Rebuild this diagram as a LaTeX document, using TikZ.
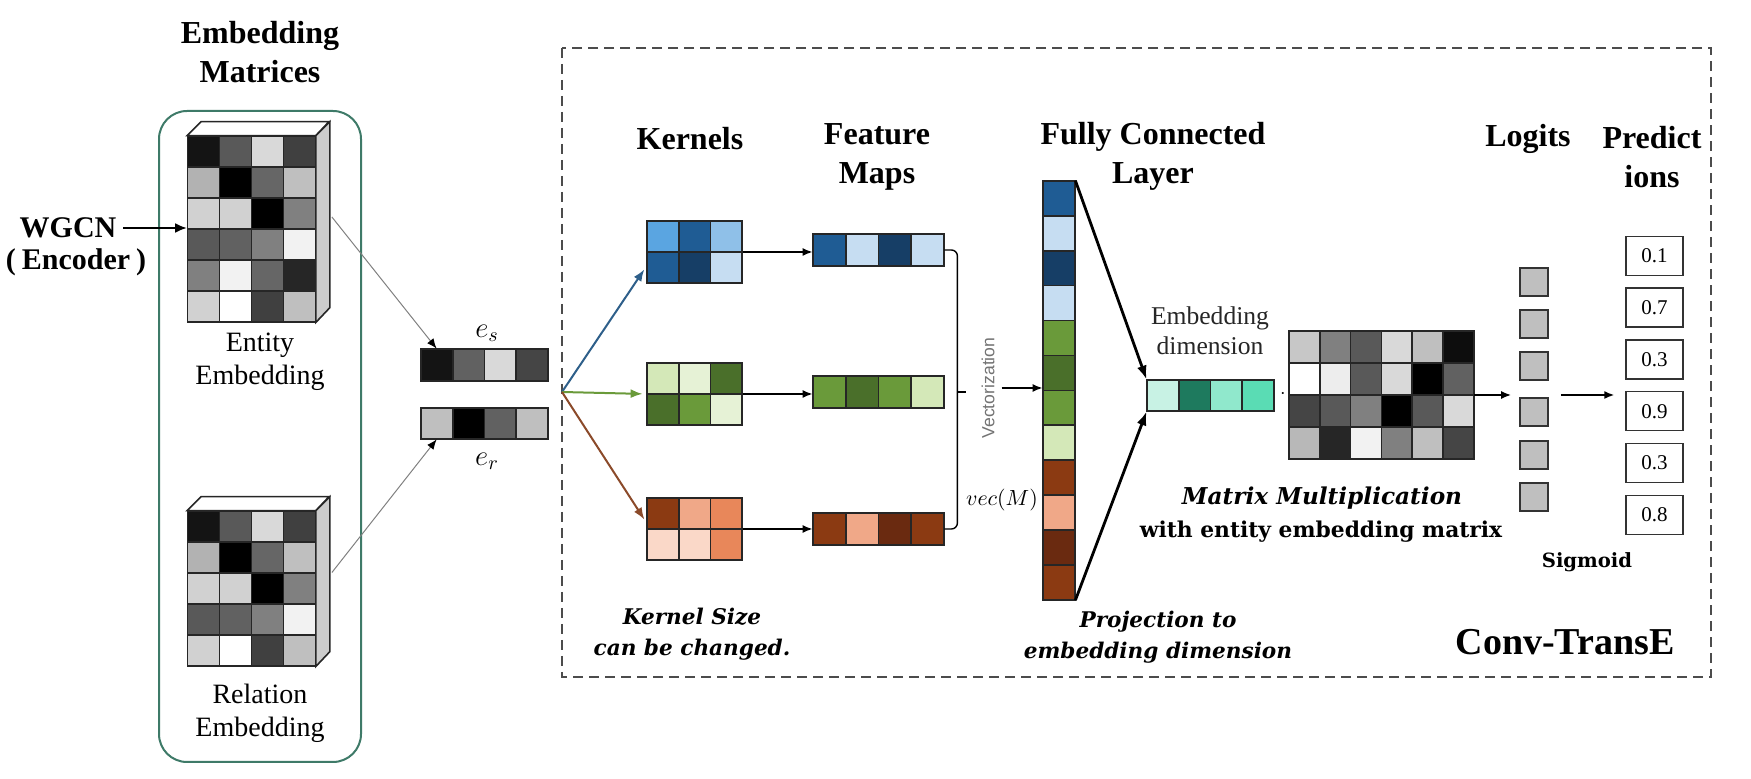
\documentclass[tikz,border=0pt]{standalone}
\usepackage{fontspec}
\setmainfont{Liberation Serif}
\newfontfamily\cambria{DejaVu Serif}
\newfontfamily\arial{Liberation Sans}
\usetikzlibrary{arrows.meta}
\definecolor{bl1}{RGB}{90,165,225}
\definecolor{bl2}{RGB}{31,92,148}
\definecolor{bl3}{RGB}{143,192,232}
\definecolor{bl4}{RGB}{22,62,102}
\definecolor{bl5}{RGB}{198,221,242}
\definecolor{gr1}{RGB}{212,232,184}
\definecolor{gr2}{RGB}{230,242,214}
\definecolor{gr3}{RGB}{74,111,42}
\definecolor{gr4}{RGB}{106,154,58}
\definecolor{or1}{RGB}{139,58,18}
\definecolor{or2}{RGB}{240,168,136}
\definecolor{or3}{RGB}{232,135,90}
\definecolor{or4}{RGB}{250,216,200}
\definecolor{or5}{RGB}{106,42,16}
\definecolor{te1}{RGB}{200,242,228}
\definecolor{te2}{RGB}{30,122,94}
\definecolor{te3}{RGB}{144,232,204}
\definecolor{te4}{RGB}{90,220,180}
\definecolor{arrblue}{RGB}{46,95,138}
\definecolor{arrgreen}{RGB}{106,154,58}
\definecolor{arrorange}{RGB}{139,74,42}
\definecolor{boxgreen}{RGB}{62,122,104}
\newcommand{\cellgrid}[8]{%
  \foreach \tone [count=\idx from 0] in {#8} {%
    \pgfmathtruncatemacro{\gi}{mod(\idx,#4)}%
    \pgfmathtruncatemacro{\gj}{(\idx-\gi)/#4}%
    \draw [cell, fill=\tone] ({#2+\gi*#6}, {#3+\gj*#7}) rectangle +(#6, #7);
  }%
  \node [inner sep=0pt, minimum width={#4*#6*0.5pt}, minimum height={#5*#7*0.5pt}] (#1) at ({#2+#4*#6/2}, {#3+#5*#7/2}) {};%
}
\begin{document}
\begin{tikzpicture}[x=0.5pt, y=-0.5pt]
            \tikzstyle{title}=[font=\fontsize{16}{19.5}\selectfont\bfseries, align=center]
            \tikzstyle{caption}=[font=\fontsize{14}{16.5}\selectfont, align=center]
            \tikzstyle{note}=[font=\fontsize{10.8}{15.5}\selectfont\cambria\bfseries\itshape, align=center]
            \tikzstyle{cell}=[draw=black!85, line width=0.8pt]
            \tikzstyle{link}=[black!50, line width=0.5pt, -{Latex[length=5pt, width=4pt, color=black]}]
            \tikzstyle{flow}=[black, line width=0.8pt, -{Latex[length=5pt, width=4pt]}]
            \tikzstyle{logit}=[draw=black!80, fill=black!25, line width=0.9pt, minimum size=14pt, inner sep=0pt]
            \tikzstyle{pred}=[draw=black!80, line width=0.7pt, minimum width=28.5pt, minimum height=19.5pt, inner sep=0pt, font=\fontsize{10.5}{12}\selectfont]
            \useasboundingbox (0, 0) rectangle (1751, 779);
            \draw [draw=boxgreen, line width=1pt, rounded corners=14pt] (159, 111) rectangle (361, 762);
            \draw [draw=black!70, line width=0.9pt, dash pattern=on 5pt off 3pt] (562, 48) rectangle (1711, 677);
            \node [title] (embtitle) at (260, 52) {Embedding\\Matrices};
            \node [title] (kertitle) at (690, 139) {Kernels};
            \node [title] (feattitle) at (877, 157) {Feature\\Maps};
            \node [title] (fctitle) at (1153, 156) {Fully Connected\\Layer};
            \node [title] (logtitle) at (1528, 139) {Logits};
            \node [title] (predtitle) at (1652, 157) {Predict\\ions};
            \cellgrid{ent}{187.5}{136}{4}{6}{32}{31}{black!92, black!65, black!15, black!75, black!30, black!100, black!60, black!25, black!18, black!18, black!100, black!50, black!65, black!62, black!50, black!5, black!50, black!5, black!60, black!85, black!18, black!0, black!75, black!25}
            \draw [cell, fill=white] (ent.north west) -- ++(14, -14) -- ++(128, 0) -- (ent.north east) -- cycle;
            \draw [cell, fill=black!20] (ent.north east) -- ++(14, -14) -- ++(0, 186) -- (ent.south east) -- cycle;
            \cellgrid{rel}{187.5}{511}{4}{5}{32}{31}{black!92, black!65, black!15, black!75, black!30, black!100, black!60, black!25, black!18, black!18, black!100, black!50, black!65, black!62, black!50, black!5, black!18, black!0, black!75, black!25}
            \draw [cell, fill=white] (rel.north west) -- ++(14, -14) -- ++(128, 0) -- (rel.north east) -- cycle;
            \draw [cell, fill=black!20] (rel.north east) -- ++(14, -14) -- ++(0, 155) -- (rel.south east) -- cycle;
            \node [caption] (entlabel) at (260, 362) {Entity\\Embedding};
            \node [caption] (rellabel) at (260, 713) {Relation\\Embedding};
            \node [font=\fontsize{15}{16.5}\selectfont\bfseries] (wgcn) at (68, 228) {WGCN};
            \node [font=\fontsize{15}{16.5}\selectfont\bfseries] (encoder) at (76, 262) {(\kern3pt Encoder\kern3pt)};
            \draw [black, line width=1.4pt, -{Latex[length=6pt, width=5pt]}] (wgcn.east) -- (ent.west |- wgcn.east);
            \cellgrid{es}{421}{349}{4}{1}{31.75}{32}{black!92, black!62, black!15, black!73}
            \cellgrid{er}{421}{408}{4}{1}{31.75}{31}{black!25, black!100, black!62, black!25}
            \node [font=\fontsize{14}{16}\selectfont] (eslabel) at (487, 333) {$e_s$};
            \node [font=\fontsize{14}{16}\selectfont] (erlabel) at (487, 461) {$e_r$};
            \draw [link] ([xshift=8pt, yshift=6pt]ent.east) -- ([xshift=8pt]es.north west);
            \draw [link] ([xshift=8pt, yshift=8pt]rel.east) -- ([xshift=8pt]er.south west);
            \cellgrid{kb}{647}{221}{3}{2}{31.7}{31}{bl1, bl2, bl3, bl2, bl4, bl5}
            \cellgrid{kg}{647}{363}{3}{2}{31.7}{31}{gr1, gr2, gr3, gr3, gr4, gr2}
            \cellgrid{ko}{647}{498}{3}{2}{31.7}{31}{or1, or2, or3, or4, or4, or3}
            \cellgrid{fb}{813}{234}{4}{1}{32.75}{32}{bl2, bl5, bl4, bl5}
            \cellgrid{fg}{813}{376}{4}{1}{32.75}{32}{gr4, gr3, gr4, gr1}
            \cellgrid{fo}{813}{513}{4}{1}{32.75}{32}{or1, or2, or5, or1}
            \coordinate (fan) at (562, 392);
            \draw [arrblue, line width=1pt, shorten >=2pt, -{Latex[length=6pt, width=4.5pt]}] (fan) -- ([yshift=-7pt]kb.west);
            \draw [arrgreen, line width=1pt, shorten >=2pt, -{Latex[length=6pt, width=4.5pt]}] (fan) -- (kg.west);
            \draw [arrorange, line width=1pt, shorten >=2pt, -{Latex[length=6pt, width=4.5pt]}] (fan) -- ([yshift=3pt]ko.west);
            \draw [flow] (kb.east) -- (kb.east -| fb.west);
            \draw [flow] (kg.east) -- (kg.east -| fg.west);
            \draw [flow] (ko.east) -- (ko.east -| fo.west);
            \draw [line width=0.7pt, rounded corners=3pt] (fb.east) -- ++(13, 0) |- (fo.east);
            \draw [line width=0.7pt] ([xshift=6.5pt]fg.east) -- ++(9, 0);
            \node [rotate=90, text=black!55, font=\fontsize{8.8}{10}\selectfont\arial] (vectxt) at (988, 388) {Vectorization};
            \node [font=\fontsize{11}{13}\selectfont] (vecm) at (1002, 500) {$vec(M)$};
            \cellgrid{fc}{1043}{181}{1}{12}{32}{34.9}{bl2, bl5, bl4, bl5, gr4, gr3, gr4, gr1, or1, or2, or5, or1}
            \draw [flow] (vectxt.south) -- (vectxt.south -| fc.west);
            \cellgrid{ed}{1147}{380}{4}{1}{31.75}{31}{te1, te2, te3, te4}
            \node [font=\fontsize{12.8}{15}\selectfont, align=center, text=black!85] (edlabel) at (1210, 331) {Embedding\\dimension};
            \draw [black, line width=1.4pt, -{Latex[length=7pt, width=5pt]}] (fc.north east) -- (ed.north west);
            \draw [black, line width=1.4pt, -{Latex[length=7pt, width=5pt]}] (fc.south east) -- (ed.south west);
            \node [inner sep=0pt] (dot) at (1283, 394) {$\cdot$};
            \cellgrid{wm}{1289}{331}{6}{4}{30.8}{32}{black!22, black!50, black!65, black!15, black!25, black!95, black!0, black!7, black!65, black!15, black!100, black!62, black!73, black!65, black!50, black!100, black!65, black!15, black!28, black!85, black!5, black!50, black!25, black!73}
            \node [font=\fontsize{11.6}{13}\selectfont\cambria\bfseries\itshape] (mmtitle) at (1322, 498) {Matrix Multiplication};
            \node [font=\fontsize{10.9}{13}\selectfont\cambria\bfseries] (mmsub) at (1321, 532) {with entity embedding matrix};
            \foreach \y [count=\i] in {282, 324, 366, 412, 455, 497}
                \node [logit] (l\i) at (1534, \y) {};
            \foreach \v [count=\i] in {0.1, 0.7, 0.3, 0.9, 0.3, 0.8}
                \node [pred] (p\i) at (1654.5, {204+51.8*\i}) {\v};
            \draw [flow, shorten >=4pt] (wm.east) -- (wm.east -| l4.west);
            \draw [flow, shorten <=6pt, shorten >=5.5pt] (l4.east |- wm.east) -- (p4.west |- wm.east);
            \node [font=\fontsize{9.8}{12}\selectfont\cambria\bfseries] (sigmoid) at (1587, 562) {Sigmoid};
            \node [note] (kernote) at (692, 634) {Kernel Size\\can be changed.};
            \node [note] (projnote) at (1158, 637) {Projection to\\embedding dimension};
            \node [font=\fontsize{19}{22}\selectfont\bfseries] (convtranse) at (1565, 642) {Conv-TransE};
\end{tikzpicture}
\end{document}
